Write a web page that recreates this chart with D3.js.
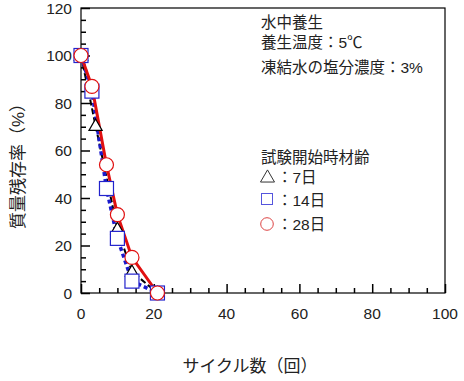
<!DOCTYPE html>
<html>
<head>
<meta charset="utf-8">
<script src="https://cdn.jsdelivr.net/npm/d3@7"></script>
<style>
body { margin: 0; background: #fff; }
text { font-family: "Liberation Sans", Arial, "Noto Sans CJK JP", sans-serif; }
.jp { font-family: "Liberation Sans", "Noto Sans CJK JP", sans-serif; }
</style>
</head>
<body>
<div id="chart"></div>
<script>
// data
const age7 = [[0, 100], [4, 70.5], [10, 27], [14, 9], [21, 0]]
const age14 = [[0, 100], [3, 85], [7, 44], [10, 23], [14, 5], [21, 0]]
const age28 = [[0, 100], [3, 87], [7, 54], [10, 33], [14, 15], [21, 0]]
const xTicks = [0, 20, 40, 60, 80, 100]
const yTicks = [0, 20, 40, 60, 80, 100, 120]
const notes = ['水中養生', '養生温度：5℃', '凍結水の塩分濃度：3%']
const legendTitle = '試験開始時材齢'
const legendLabels = ['：7日', '：14日', '：28日']

const width = 464, height = 381
const margin = {left: 81, top: 8, right: 19, bottom: 88}

const svg = d3.select('#chart').append('svg')
.attr('width', width)
.attr('height', height)

let x = d3.scaleLinear().domain([0, 100]).range([margin.left, width - margin.right])
let y = d3.scaleLinear().domain([0, 120]).range([height - margin.bottom, margin.top])

// frame
svg.append('rect')
.attr('x', x(0)).attr('y', y(120))
.attr('width', x(100) - x(0)).attr('height', y(0) - y(120))
.attr('fill', 'none').attr('stroke', '#000').attr('stroke-width', 1.2)

// x axis
let xa = svg.append('g').attr('transform', `translate(0,${y(0)})`)
xa.call(d3.axisBottom(x).tickValues(d3.range(0, 101, 5)).tickSize(-5).tickFormat(''))
xa.call(g => g.select('.domain').remove())
xa.selectAll('.tick line').attr('stroke-width', 1.5)
  .attr('y2', d => d % 20 === 0 ? -9 : -5)
svg.append('g').selectAll('text').data(xTicks).join('text')
.attr('x', d => x(d)).attr('y', 319)
.attr('text-anchor', 'middle').attr('font-size', 15.5).attr('fill', '#222')
.text(d => d)

// y axis
let ya = svg.append('g').attr('transform', `translate(${x(0)},0)`)
ya.call(d3.axisLeft(y).tickValues(d3.range(0, 121, 5)).tickSize(-5).tickFormat(''))
ya.call(g => g.select('.domain').remove())
ya.selectAll('.tick line').attr('stroke-width', 1.5)
  .attr('x2', d => d % 20 === 0 ? 9 : 5)
svg.append('g').selectAll('text').data(yTicks).join('text')
.attr('x', x(0) - 9).attr('y', d => y(d) + 5.5)
.attr('text-anchor', 'end').attr('font-size', 15.5).attr('fill', '#222')
.text(d => d)

// axis titles
svg.append('text').attr('class', 'jp')
.attr('x', 250).attr('y', 372)
.attr('text-anchor', 'middle').attr('font-size', 17).attr('fill', '#222')
.text('サイクル数（回）')

svg.append('text').attr('class', 'jp')
.attr('transform', `translate(24,162) rotate(-90)`)
.attr('text-anchor', 'middle').attr('font-size', 17).attr('fill', '#222')
.text('質量残存率（%）')

const line = d3.line().x(d => x(d[0])).y(d => y(d[1]))

svg.append('path').datum(age7)
.attr('d', line).attr('fill', 'none').attr('stroke', '#000')
.attr('stroke-width', 2).attr('stroke-dasharray', '6,3')

svg.append('path').datum(age14)
.attr('d', line).attr('fill', 'none').attr('stroke', '#1a1acc')
.attr('stroke-width', 3.5).attr('stroke-dasharray', '4,3')

svg.append('path').datum(age28)
.attr('d', line).attr('fill', 'none').attr('stroke', '#e01010')
.attr('stroke-width', 3)

const tri = d3.symbol().type(d3.symbolTriangle).size(75)

svg.append('g').selectAll('path').data(age7).join('path')
.attr('transform', d => `translate(${x(d[0])},${y(d[1]) + 1})`)
.attr('d', tri).attr('fill', '#fff').attr('stroke', '#000').attr('stroke-width', 1.2)

svg.append('g').selectAll('rect').data(age14).join('rect')
.attr('x', d => x(d[0]) - 7).attr('y', d => y(d[1]) - 7)
.attr('width', 14).attr('height', 14)
.attr('fill', '#fff').attr('stroke', '#2222cc').attr('stroke-width', 1.2)

svg.append('g').selectAll('circle').data(age28).join('circle')
.attr('cx', d => x(d[0])).attr('cy', d => y(d[1])).attr('r', 7)
.attr('fill', '#fff').attr('stroke', '#e01010').attr('stroke-width', 1.2)

// notes
svg.append('g').selectAll('text').data(notes).join('text')
.attr('class', 'jp')
.attr('x', 261).attr('y', (d, i) => [28, 48, 73][i])
.attr('font-size', 15.5).attr('fill', '#222')
.text(d => d)

// legend
svg.append('text').attr('class', 'jp')
.attr('x', 261).attr('y', 163).attr('font-size', 15.5).attr('fill', '#222')
.text(legendTitle)

const ly = [183, 206, 230]
svg.append('g').selectAll('text').data(legendLabels).join('text')
.attr('class', 'jp')
.attr('x', 277).attr('y', (d, i) => ly[i])
.attr('font-size', 15.5).attr('fill', '#222')
.text(d => d)

svg.append('path')
.attr('transform', `translate(267.5,${ly[0] - 5})`)
.attr('d', d3.symbol().type(d3.symbolTriangle).size(85))
.attr('fill', 'none').attr('stroke', '#333').attr('stroke-width', 1)
svg.append('rect')
.attr('x', 261.5).attr('y', ly[1] - 12.5).attr('width', 11).attr('height', 11)
.attr('fill', 'none').attr('stroke', '#5555dd').attr('stroke-width', 1)
svg.append('circle')
.attr('cx', 267).attr('cy', ly[2] - 6).attr('r', 6.3)
.attr('fill', 'none').attr('stroke', '#dd4444').attr('stroke-width', 1)
</script>
</body>
</html>
